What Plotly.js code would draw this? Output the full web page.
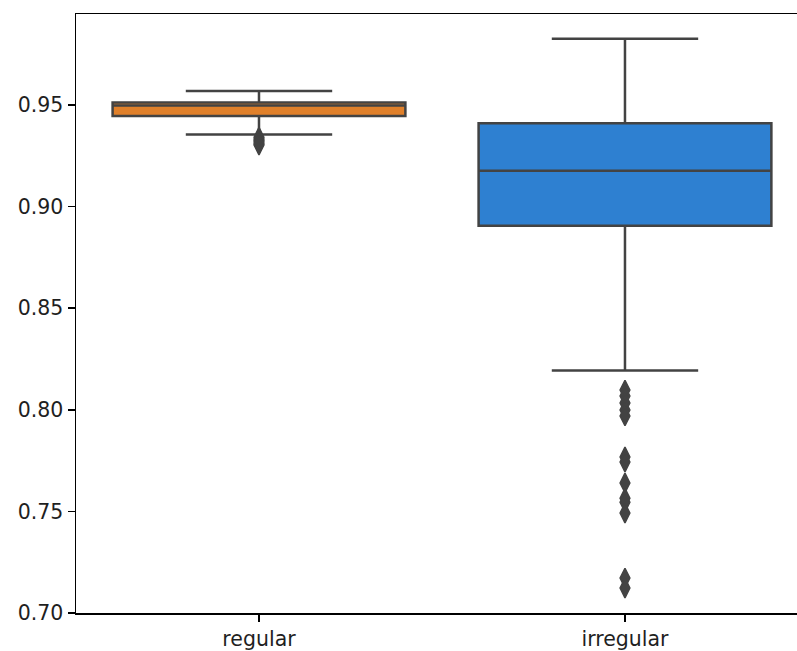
<!DOCTYPE html>
<html>
<head>
<meta charset="utf-8">
<script src="https://cdn.plot.ly/plotly-3.0.1.min.js"></script>
<style>html,body{margin:0;padding:0;background:#fff;}#chart{width:797px;height:651px;}</style>
</head>
<body>
<div id="chart"></div>
<script>
// Categories
const categories = ["regular", "irregular"];
// Box statistics per category
const q1Values = [0.9446, 0.8906];
const medianValues = [0.9498, 0.9177];
const q3Values = [0.9512, 0.9410];
const lowerWhisker = [0.9355, 0.8194];
const upperWhisker = [0.9569, 0.9826];
// Outliers
const regularOutliers = [0.9342, 0.9333, 0.9325, 0.9318, 0.9310, 0.9303];
const irregularOutliers = [0.8097, 0.8068, 0.8034, 0.7999, 0.7970, 0.7768, 0.7743, 0.7640, 0.7565, 0.7545, 0.7492, 0.7172, 0.7123];
// Tick labels
const yTicks = [0.70, 0.75, 0.80, 0.85, 0.90, 0.95];
const yTickLabels = ["0.70", "0.75", "0.80", "0.85", "0.90", "0.95"];

const fills = ["#E0802A", "#2E80D1"];
const edge = "#434343";

const traces = categories.map((c, i) => ({
  type: "box",
  x: [c],
  q1: [q1Values[i]],
  median: [medianValues[i]],
  q3: [q3Values[i]],
  lowerfence: [lowerWhisker[i]],
  upperfence: [upperWhisker[i]],
  width: 0.8,
  whiskerwidth: 0.5,
  fillcolor: fills[i],
  line: {color: edge, width: 2.5},
  boxpoints: false,
  hoverinfo: "skip",
  showlegend: false
}));

const outlierSets = [regularOutliers, irregularOutliers];
outlierSets.forEach((vals, i) => {
  traces.push({
    type: "scatter",
    mode: "markers",
    x: vals.map(() => categories[i]),
    y: vals,
    marker: {symbol: "diamond-tall", size: 14, color: edge, line: {color: edge, width: 1.5}},
    hoverinfo: "skip",
    showlegend: false
  });
});

const layout = {
  width: 797,
  height: 651,
  margin: {l: 76, r: 0, t: 14, b: 38, pad: 0},
  paper_bgcolor: "#ffffff",
  plot_bgcolor: "#ffffff",
  font: {family: "DejaVu Sans, sans-serif", size: 20.5, color: "#1f1f1f"},
  showlegend: false,
  xaxis: {
    type: "category",
    categoryorder: "array",
    categoryarray: categories,
    range: [-0.5, 1.47],
    showline: true,
    mirror: true,
    linecolor: "#000000",
    linewidth: 1.5,
    ticks: "outside",
    ticklen: 7,
    tickwidth: 1.5,
    tickcolor: "#000000",
    showgrid: false,
    zeroline: false,
    fixedrange: true
  },
  yaxis: {
    range: [0.70, 0.9948],
    tickvals: yTicks,
    ticktext: yTickLabels,
    showline: true,
    linecolor: "#000000",
    linewidth: 1.5,
    ticks: "outside",
    ticklen: 7,
    tickwidth: 1.5,
    tickcolor: "#000000",
    showgrid: false,
    zeroline: false,
    fixedrange: true
  }
};

Plotly.newPlot("chart", traces, layout, {staticPlot: true, displayModeBar: false});
</script>
</body>
</html>
